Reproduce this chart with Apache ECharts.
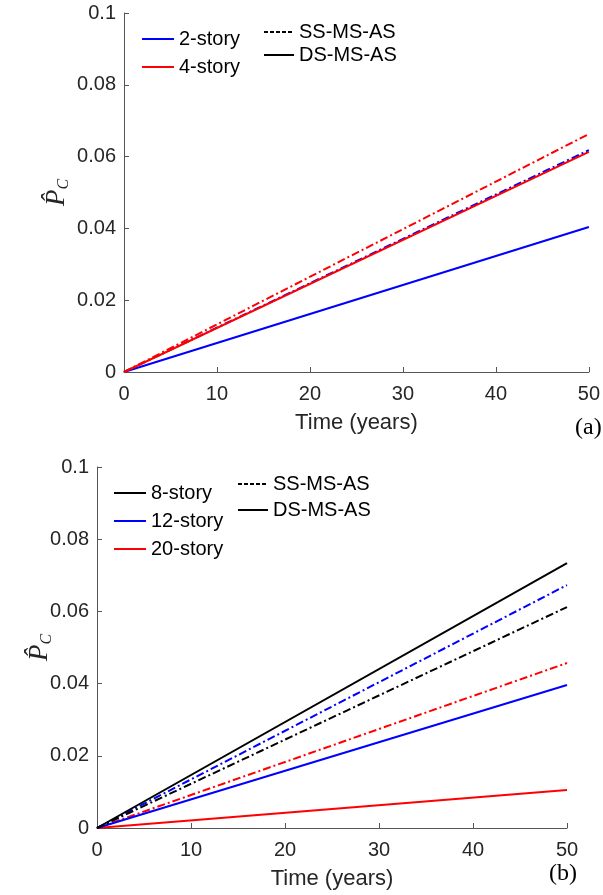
<!DOCTYPE html>
<html>
<head>
<meta charset="utf-8">
<script src="https://cdn.jsdelivr.net/npm/echarts@6/dist/echarts.min.js"></script>
<style>
html,body{margin:0;padding:0;background:#fff;}
#c{width:603px;height:895px;}
</style>
</head>
<body>
<div id="c"></div>
<script>
// ---- data ----
const timeYears = [0, 50];
const xTicks = [0, 10, 20, 30, 40, 50];
const yTicks = [0, 0.02, 0.04, 0.06, 0.08, 0.1];

// panel (a)
const a2StoryDS = [0, 0.0404];
const a2StorySS = [0, 0.0618];
const a4StoryDS = [0, 0.0613];
const a4StorySS = [0, 0.0663];

// panel (b)
const b8StoryDS = [0, 0.0734];
const b8StorySS = [0, 0.0612];
const b12StoryDS = [0, 0.0396];
const b12StorySS = [0, 0.0673];
const b20StoryDS = [0, 0.0105];
const b20StorySS = [0, 0.0457];

const legendA = ['2-story', '4-story'];
const legendB = ['8-story', '12-story', '20-story'];
const styleLegend = ['SS-MS-AS', 'DS-MS-AS'];

// ---- helpers ----
const BLUE = '#0000ff', RED = '#ff0000', BLACK = '#000000';
const DASHDOT = [8, 3, 2, 3];
const toPts = vals => timeYears.map((t, i) => [t, vals[i]]);
function line(name, vals, color, dashed, idx) {
  return {
    name: name, type: 'line', xAxisIndex: idx, yAxisIndex: idx,
    data: toPts(vals), symbol: 'none', silent: true, animation: false,
    lineStyle: { color: color, width: 2, type: dashed ? DASHDOT : 'solid' },
    itemStyle: { color: color }
  };
}
function dummy(name, dashed, idx) {
  return {
    name: name, type: 'line', xAxisIndex: idx, yAxisIndex: idx, data: [],
    symbol: 'none', animation: false,
    lineStyle: { color: BLACK, width: 2, type: dashed ? [4, 2] : 'solid' },
    itemStyle: { color: BLACK }
  };
}
const tickFont = { fontFamily: 'Liberation Sans', fontSize: 20, color: '#262626' };
function xAx(idx) {
  return {
    type: 'value', gridIndex: idx, min: 0, max: 50, interval: 10,
    name: 'Time (years)', nameLocation: 'middle', nameGap: 40,
    nameTextStyle: { fontFamily: 'Liberation Sans', fontSize: 22, color: '#262626' },
    axisLine: { lineStyle: { color: '#555', width: 1 } },
    axisTick: { inside: true, length: 5, lineStyle: { color: '#555' } },
    axisLabel: Object.assign({ margin: 12 }, tickFont),
    splitLine: { show: false }
  };
}
function yAx(idx, gap) {
  return {
    type: 'value', gridIndex: idx, min: 0, max: 0.1, interval: 0.02,
    name: '{p|P\u0302}{c|C}', nameLocation: 'middle', nameGap: gap, nameRotate: 90,
    nameMoveOverlap: false,
    nameTextStyle: {
      rich: {
        p: { fontFamily: 'Liberation Serif', fontStyle: 'italic', fontSize: 27, color: '#262626', lineHeight: 30 },
        c: { fontFamily: 'Liberation Serif', fontStyle: 'italic', fontSize: 16, color: '#262626', lineHeight: 30, verticalAlign: 'bottom', padding: [10, 0, 0, 0] }
      }
    },
    axisLine: { show: true, lineStyle: { color: '#555', width: 1 } },
    axisTick: { show: true, inside: true, length: 5, lineStyle: { color: '#555' } },
    axisLabel: Object.assign({ margin: 8, formatter: v => String(+v.toFixed(2)) }, tickFont),
    splitLine: { show: false }
  };
}
const legText = { fontFamily: 'Liberation Sans', fontSize: 20, color: '#000' };
function legend(data, left, top, gap, w) {
  return {
    data: data, orient: 'vertical', left: left, top: top, itemGap: gap,
    itemWidth: w, itemHeight: 14, textStyle: legText, selectedMode: false, padding: 0,
    itemStyle: { opacity: 0, borderWidth: 0 }
  };
}

const option = {
  animation: false,
  grid: [
    { left: 124, top: 13, width: 467, height: 359 },
    { left: 97, top: 467, width: 470, height: 361 }
  ],
  xAxis: [xAx(0), xAx(1)],
  yAxis: [yAx(0, 52), yAx(1, 42)],
  legend: [
    legend(legendA, 141, 29, 8, 32),
    legend(styleLegend, 263, 22, 3, 30),
    legend(legendB, 113, 483, 8, 32),
    legend(styleLegend.map(n => n + ' '), 237, 474, 6, 30)
  ],
  series: [
    line('2-story', a2StoryDS, BLUE, false, 0),
    line('2-story SS', a2StorySS, BLUE, true, 0),
    line('4-story SS', a4StorySS, RED, true, 0),
    line('4-story', a4StoryDS, RED, false, 0),
    dummy('SS-MS-AS', true, 0),
    dummy('DS-MS-AS', false, 0),
    line('20-story', b20StoryDS, RED, false, 1),
    line('20-story SS', b20StorySS, RED, true, 1),
    line('12-story', b12StoryDS, BLUE, false, 1),
    line('12-story SS', b12StorySS, BLUE, true, 1),
    line('8-story SS', b8StorySS, BLACK, true, 1),
    line('8-story', b8StoryDS, BLACK, false, 1),
    dummy('SS-MS-AS ', true, 1),
    dummy('DS-MS-AS ', false, 1)
  ],
  graphic: [
    { type: 'text', left: 575, top: 416, style: { text: '(a)', font: '24px "Liberation Serif"', fill: '#000' } },
    { type: 'text', left: 549, top: 862, style: { text: '(b)', font: '24px "Liberation Serif"', fill: '#000' } }
  ]
};
const chart = echarts.init(document.getElementById('c'), null, { renderer: 'canvas' });
chart.setOption(option);
</script>
</body>
</html>
